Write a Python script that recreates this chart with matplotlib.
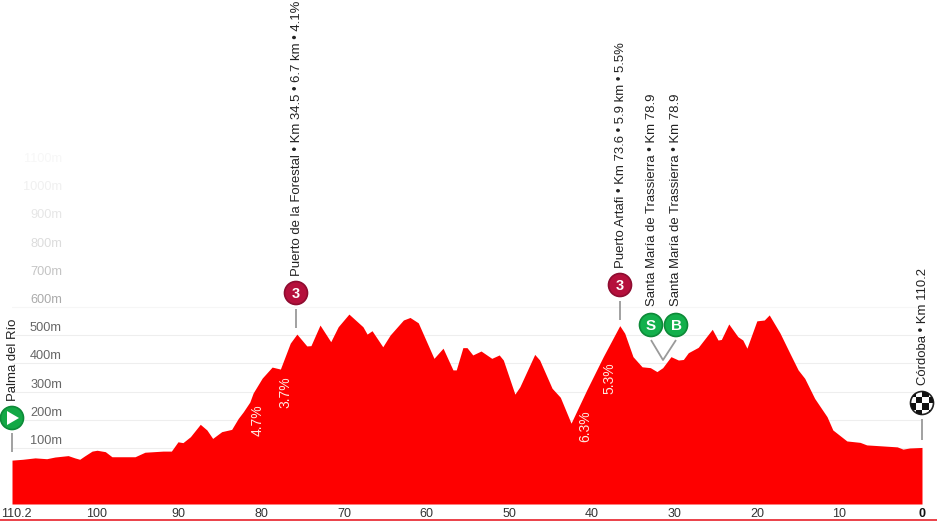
import matplotlib
matplotlib.use("Agg")
import matplotlib.pyplot as plt
from matplotlib.patches import Circle, Rectangle, Polygon
from matplotlib.transforms import ScaledTranslation

plt.rcParams['font.family'] = ['Liberation Sans', 'DejaVu Sans']

km = [110.2,108.9,107.4,106.0,105.0,103.4,102.6,102.0,101.4,100.5,99.9,98.9,98.1,95.3,94.1,91.9,90.9,90.1,89.5,88.6,
      87.4,86.6,85.9,84.8,83.6,82.8,82.2,81.4,81.0,79.9,78.7,77.7,76.5,75.7,74.5,74.0,72.9,71.6,70.7,69.4,
      67.7,67.2,66.6,65.3,64.4,62.8,62.0,61.0,59.9,59.1,58.0,56.8,56.4,55.6,55.1,54.4,53.4,52.1,51.2,50.7,
      49.3,48.7,46.9,46.3,44.8,43.8,42.5,40.6,38.6,36.6,36.0,35.0,33.9,32.9,32.1,31.4,30.4,29.5,28.9,28.3,
      27.1,25.4,24.7,24.3,23.4,22.3,21.7,21.2,20.0,19.1,18.5,17.2,16.0,15.0,14.2,13.0,11.5,10.8,9.1,7.5,
      6.7,5.1,3.0,2.3,1.5,0]
elev = [57,60,65,62,68,73,65,60,72,89,92,87,69,69,85,89,89,122,119,140,
        184,164,134,158,166,205,228,263,295,348,387,380,472,504,462,463,536,477,530,575,
        530,504,516,459,501,554,563,544,471,418,454,377,377,456,456,430,444,418,430,412,
        291,317,432,412,312,280,188,306,424,534,507,424,388,385,371,385,424,412,414,438,
        457,521,483,485,540,495,483,454,551,554,572,508,436,377,347,276,211,164,125,120,
        111,108,104,96,100,102]

x_ticks = [110.2,100,90,80,70,60,50,40,30,20,10,0]
x_labels = ['110.2','100','90','80','70','60','50','40','30','20','10','0']
y_levels = [100,200,300,400,500,600,700,800,900,1000,1100]
y_colors = ['#666666','#666666','#666666','#666666','#666666','#aaaaaa','#c4c4c4','#dcdcdc','#e6e6e6','#f0f0f0','#f7f7f7']
grid_colors = ['#eeeeee']*5 + ['#f6f6f6'] + ['#ffffff']*5

climb_label_1 = 'Puerto de la Forestal • Km 34.5 • 6.7 km • 4.1%'
climb_label_2 = 'Puerto Artafi • Km 73.6 • 5.9 km • 5.5%'
sprint_label = 'Santa María de Trassierra • Km 78.9'
start_label = 'Palma del Río'
finish_label = 'Córdoba • Km 110.2'
grad_labels = ['4.7%','3.7%','5.3%','6.3%']
grad_km = [80.4,77.1,37.8,40.8]
grad_elev = [199,299,348,178]

W, H = 940, 521
fig = plt.figure(figsize=(W/100, H/100), dpi=100, facecolor='white')
ax = fig.add_axes([12/W, (H-504)/H, 910/W, 504/H])
ax.set_xlim(110.2, 0)
ax.set_ylim(-98.6, 1689)
for s in ax.spines.values():
    s.set_visible(False)
ax.set_yticks([])
ax.set_xticks(x_ticks)
ax.set_xticklabels(x_labels, fontsize=9.0, color='#333333')
ax.tick_params(axis='x', length=0, pad=3)
ax.get_xticklabels()[-1].set_fontweight('bold')
ax.get_xticklabels()[-1].set_color('#111111')
first = ax.get_xticklabels()[0]
first.set_transform(first.get_transform() + ScaledTranslation(4/100, 0, fig.dpi_scale_trans))

for lv, tc, gc in zip(y_levels, y_colors, grid_colors):
    ax.axhline(lv, color=gc, lw=0.8, zorder=1)
    ax.annotate(f'{lv}m', xy=(0, lv), xycoords=('axes fraction', 'data'), xytext=(50, 7),
                textcoords='offset pixels', ha='right', va='center', fontsize=9.2, color=tc, zorder=1)

ax.fill_between(km, elev, -98.6, color='#fe0000', lw=0, zorder=2)

for t, k, e in zip(grad_labels, grad_km, grad_elev):
    ax.text(k, e, t, rotation=90, ha='center', va='center', color='#ffe9e0', fontsize=10, zorder=3)

# overlay in pixel coordinates for the stage markers
ov = fig.add_axes([0, 0, 1, 1], facecolor='none')
ov.set_xlim(0, W)
ov.set_ylim(H, 0)
ov.axis('off')

ov.plot([0, 937], [520, 520], color='#e8202a', lw=1.2, solid_capstyle='butt')

def stub(xs, ys):
    ov.plot(xs, ys, color='#9a9a9a', lw=1.3, solid_capstyle='butt', zorder=2)

def badge(x, y, fc, ec, txt=None, size=10.5):
    ov.add_patch(Circle((x, y), 11.5, fc=fc, ec=ec, lw=1.2, zorder=4))
    if txt:
        ov.text(x, y + 0.5, txt, ha='center', va='center', color='white', fontsize=size,
                fontweight='bold', zorder=5)

def vlabel(x, y, txt):
    ov.text(x + 2, y, txt, rotation=90, ha='center', va='bottom', fontsize=9.45, color='#222222', zorder=5)

# start
stub([12, 12], [433, 452])
badge(12, 418, '#13a845', '#0d8a38')
ov.add_patch(Polygon([[7, 411], [7, 425], [19, 418]], fc='white', ec='none', zorder=5))
vlabel(11, 401, start_label)

# climbs
stub([296, 296], [309, 328])
badge(296, 293, '#b5103c', '#8e0c30', '3')
vlabel(295, 276, climb_label_1)
stub([620, 620], [301, 320])
badge(620, 285, '#b5103c', '#8e0c30', '3')
vlabel(619, 268, climb_label_2)

# sprint and bonus
stub([651, 663, 676], [340, 360, 340])
badge(651, 325, '#13b04c', '#0d8a38', 'S', 11)
badge(676, 325, '#13b04c', '#0d8a38', 'B', 11)
vlabel(650, 306, sprint_label)
vlabel(674, 306, sprint_label)

# finish
stub([922, 922], [419, 440])
clip = Circle((922, 403), 11.5, fc='white', ec='#222222', lw=1.2, zorder=4)
ov.add_patch(clip)
step = 6.5
for i in range(-2, 2):
    for j in range(-2, 2):
        if (i + j) % 2 == 0:
            r = Rectangle((922 + i*step + 3.25 - step/2, 403 + j*step + 3.25 - step/2), step, step,
                          fc='#111111', ec='none', zorder=4.5)
            ov.add_patch(r)
            r.set_clip_path(clip)
vlabel(921, 385, finish_label)

fig.savefig('out.png', dpi=100)
